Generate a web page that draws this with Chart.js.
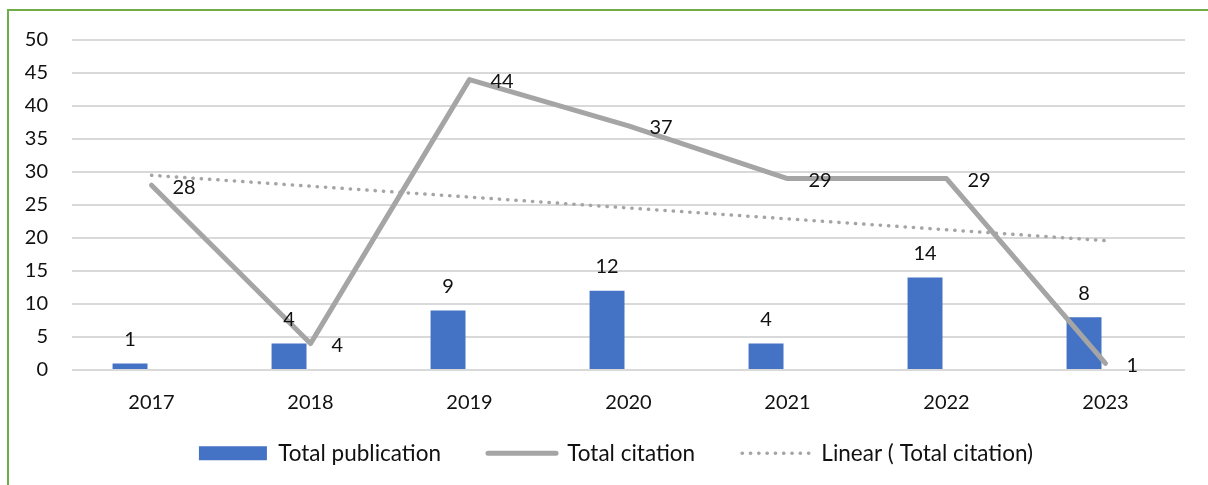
<!DOCTYPE html>
<html>
<head>
<meta charset="utf-8">
<script src="https://cdn.jsdelivr.net/npm/chart.js@4.4.1/dist/chart.umd.min.js"></script>
<style>
  html, body { margin: 0; padding: 0; background: #ffffff; }
  #wrap { position: relative; width: 1208px; height: 485px; overflow: hidden; }
  #frame { position: absolute; left: 7px; top: 9px; width: 1210px; height: 490px;
           border-top: 2px solid #70AD47; border-left: 2px solid #70AD47; pointer-events: none; }
  canvas { position: absolute; left: 0; top: 0; }
</style>
</head>
<body>
<div id="wrap">
  <canvas id="c" width="1208" height="485"></canvas>
  <div id="frame"></div>
</div>
<script>
const years = ['2017', '2018', '2019', '2020', '2021', '2022', '2023'];
const publications = [1, 4, 9, 12, 4, 14, 8];
const citations = [28, 4, 44, 37, 29, 29, 1];
const trendEnds = [29.5, null, null, null, null, null, 19.6];
const yTicksMax = 50;
const yTicksStep = 5;

const FONT = 'Lato';
const BLUE = '#4472C4';
const GRAY = '#A5A5A5';
const TEXT = '#111111';
const DOTS = [0.3, 8];

const labelPlugin = {
  id: 'valueLabels',
  afterDatasetsDraw(chart) {
    const ctx = chart.ctx;
    ctx.save();
    ctx.font = '20px ' + FONT;
    ctx.fillStyle = TEXT;
    ctx.textBaseline = 'middle';
    const barMeta = chart.getDatasetMeta(0);
    ctx.textAlign = 'center';
    barMeta.data.forEach((el, i) => {
      ctx.fillText(String(publications[i]), el.x, el.y - 24);
    });
    const lineMeta = chart.getDatasetMeta(2);
    ctx.textAlign = 'left';
    lineMeta.data.forEach((el, i) => {
      ctx.fillText(String(citations[i]), el.x + 21, el.y + 2);
    });
    ctx.restore();
  }
};

// legend: fixed box height, and shifted while drawing to sit like the reference
const legendPlacePlugin = {
  id: 'legendPlace',
  afterInit(chart) {
    const lg = chart.legend;
    if (!lg) return;
    const origFit = lg.fit.bind(lg);
    lg.fit = function () { origFit(); this.height = 70; };
    const origDraw = lg.draw.bind(lg);
    lg.draw = function () {
      const l = this.left, r = this.right, t = this.top, b = this.bottom;
      this.left = l + 23.5; this.right = r + 23.5;
      this.top = t - 20; this.bottom = b - 20;
      origDraw();
      this.left = l; this.right = r; this.top = t; this.bottom = b;
    };
  }
};

new Chart(document.getElementById('c'), {
  data: {
    labels: years,
    datasets: [
      { type: 'bar', label: 'Total publication', data: publications, backgroundColor: BLUE,
        categoryPercentage: 0.54, barPercentage: 0.814, order: 3 },
      { type: 'bar', label: '', data: years.map(() => null), backgroundColor: 'rgba(0,0,0,0)',
        categoryPercentage: 0.54, barPercentage: 0.814, order: 4 },
      { type: 'line', label: 'Total citation', data: citations, borderColor: GRAY, borderWidth: 5,
        pointRadius: 0, tension: 0, borderCapStyle: 'round', borderJoinStyle: 'round', order: 1 },
      { type: 'line', label: 'Linear ( Total citation)', data: trendEnds, spanGaps: true,
        borderColor: GRAY, borderWidth: 3.5, borderDash: DOTS, borderCapStyle: 'round',
        pointRadius: 0, order: 2 }
    ]
  },
  options: {
    responsive: false,
    animation: false,
    devicePixelRatio: 1,
    layout: { padding: { left: 0, right: 23, top: 40, bottom: 0 } },
    plugins: {
      tooltip: { enabled: false },
      legend: {
        position: 'bottom',
        labels: {
          font: { family: FONT, size: 22.5 },
          color: TEXT,
          usePointStyle: true,
          pointStyleWidth: 68,
          boxHeight: 14,
          padding: 47,
          generateLabels() {
            return [
              { text: 'Total publication', pointStyle: 'rect', fillStyle: BLUE, strokeStyle: BLUE,
                lineWidth: 0, hidden: false, datasetIndex: 0, fontColor: TEXT },
              { text: 'Total citation', pointStyle: 'line', fillStyle: GRAY, strokeStyle: GRAY,
                lineWidth: 5, lineCap: 'round', hidden: false, datasetIndex: 2, fontColor: TEXT },
              { text: 'Linear ( Total citation)', pointStyle: 'line', fillStyle: GRAY, strokeStyle: GRAY,
                lineWidth: 3.5, lineCap: 'round', lineDash: DOTS, hidden: false, datasetIndex: 3,
                fontColor: TEXT }
            ];
          }
        }
      }
    },
    scales: {
      x: {
        afterFit(scale) { scale.height = 45; },
        grid: { display: false, drawTicks: false },
        border: { display: false },
        ticks: { font: { family: FONT, size: 20 }, color: TEXT, padding: 21 }
      },
      y: {
        min: 0, max: yTicksMax,
        afterFit(scale) { scale.width = 72; },
        grid: { color: '#D9D9D9', lineWidth: 2, drawTicks: false },
        border: { display: false },
        ticks: { stepSize: yTicksStep, font: { family: FONT, size: 20 }, color: TEXT, padding: 24 }
      }
    }
  },
  plugins: [labelPlugin, legendPlacePlugin]
});
</script>
</body>
</html>
